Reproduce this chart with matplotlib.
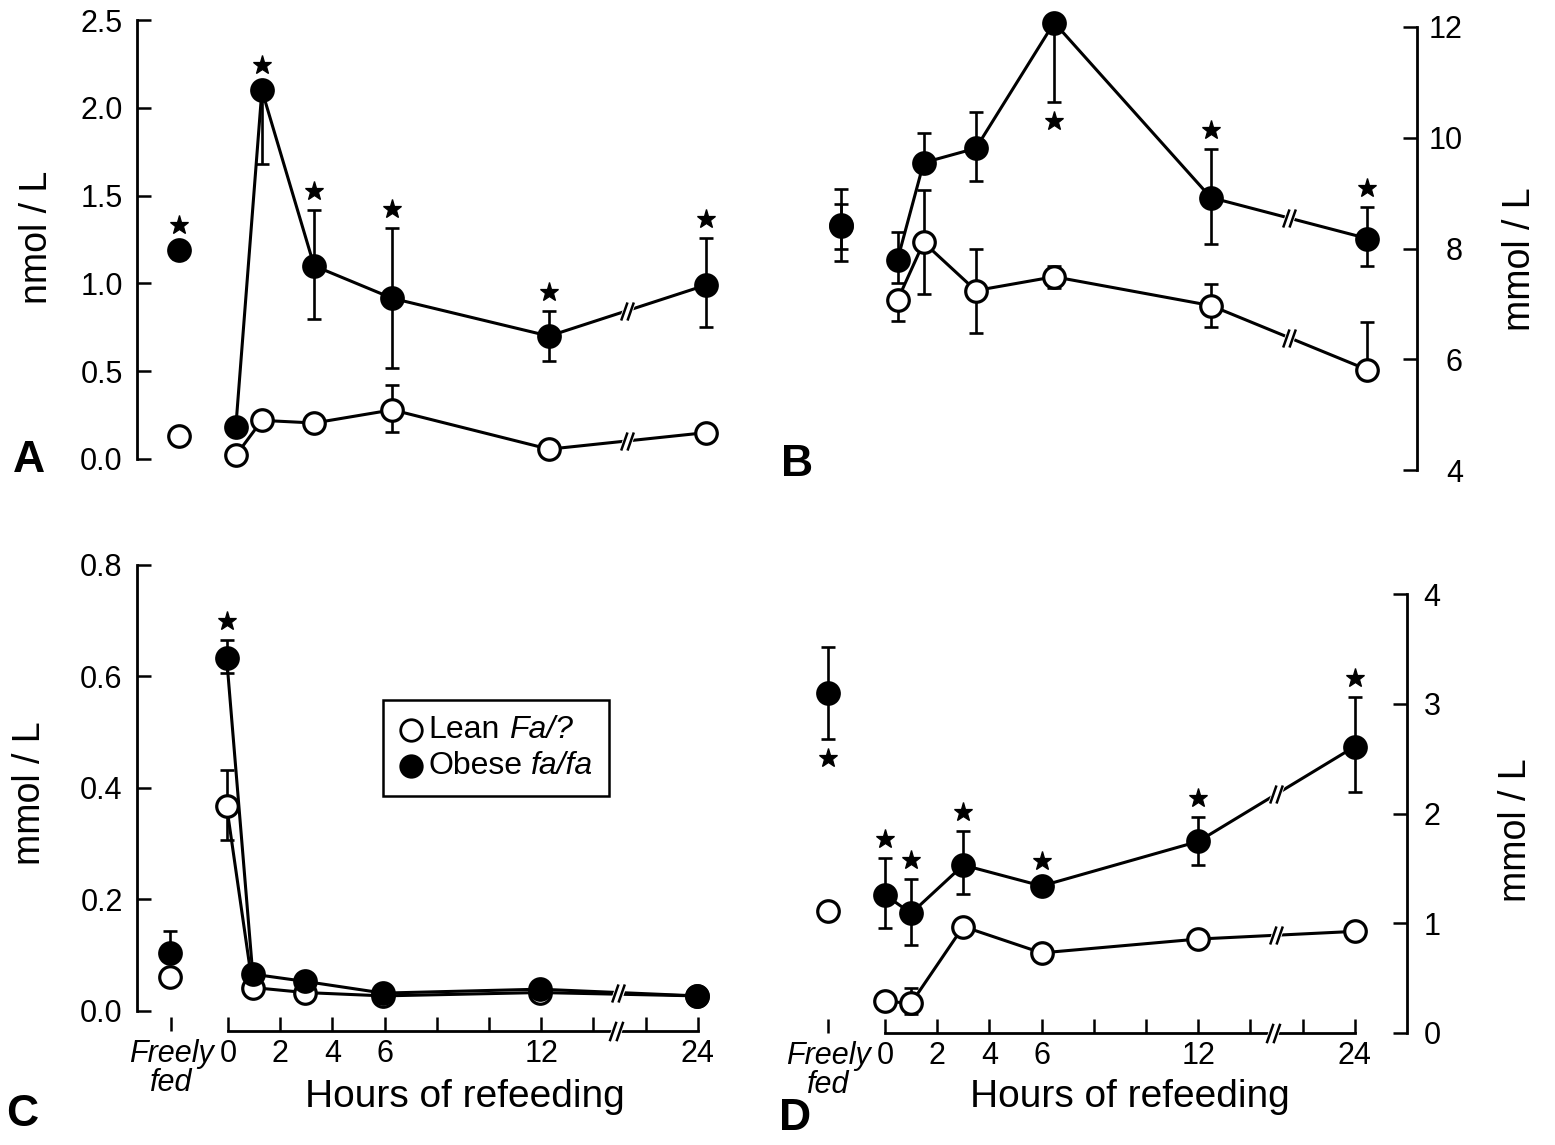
import matplotlib
matplotlib.use("Agg")
import matplotlib.pyplot as plt
from matplotlib.lines import Line2D
from matplotlib.path import Path
from matplotlib.ticker import FormatStrFormatter
from matplotlib.offsetbox import AnchoredOffsetbox, DrawingArea, HPacker, TextArea, VPacker

plt.rcParams["font.family"] = ["Liberation Sans", "DejaVu Sans"]

# sampling times, hours of refeeding; index 0 of every series below is "freely fed"
hours = [0, 1, 3, 6, 12, 24]
hour_ticks = [0, 2, 4, 6, 8, 10, 12, 14, 22, 24]
hour_labels = ["0", "2", "4", "6", "", "", "12", "", "", "24"]

# A (nmol / L)
a_lean = [0.13, 0.02, 0.22, 0.205, 0.28, 0.056, 0.15]
a_lean_lo = [0, 0, 0, 0, 0.125, 0, 0]
a_lean_hi = [0, 0, 0, 0, 0.14, 0, 0]
a_obese = [1.19, 0.18, 2.10, 1.10, 0.915, 0.70, 0.99]
a_obese_lo = [0.05, 0, 0.42, 0.30, 0.395, 0.14, 0.24]
a_obese_hi = [0.03, 0, 0, 0.32, 0.40, 0.14, 0.27]
a_stars = ["up", "", "up", "up", "up", "up", "up"]

# B (mmol / L)
b_lean = [8.40, 7.07, 8.11, 7.24, 7.49, 6.97, 5.81]
b_lean_lo = [0.40, 0.38, 0.93, 0.76, 0.20, 0.38, 0]
b_lean_hi = [0.40, 0, 0.95, 0.76, 0.20, 0.39, 0.86]
b_obese = [8.43, 7.80, 9.55, 9.81, 12.08, 8.92, 8.18]
b_obese_lo = [0.66, 0.43, 0, 0.59, 1.43, 0.84, 0.49]
b_obese_hi = [0.65, 0.50, 0.54, 0.65, 0, 0.87, 0.57]
b_stars = ["", "", "", "", "down", "up", "up"]

# C (mmol / L)
c_lean = [0.06, 0.367, 0.042, 0.033, 0.027, 0.033, 0.027]
c_lean_lo = [0, 0.06, 0, 0, 0, 0, 0]
c_lean_hi = [0, 0.065, 0, 0, 0, 0, 0]
c_obese = [0.104, 0.633, 0.066, 0.053, 0.032, 0.039, 0.027]
c_obese_lo = [0, 0.026, 0, 0, 0, 0, 0]
c_obese_hi = [0.04, 0.033, 0, 0, 0, 0, 0]
c_stars = ["", "up", "", "", "", "", ""]

# D (mmol / L)
d_lean = [1.11, 0.29, 0.27, 0.97, 0.73, 0.856, 0.926]
d_lean_lo = [0, 0, 0.10, 0, 0, 0, 0]
d_lean_hi = [0, 0, 0.14, 0, 0, 0, 0]
d_obese = [3.10, 1.26, 1.09, 1.53, 1.34, 1.745, 2.61]
d_obese_lo = [0.42, 0.30, 0.29, 0.26, 0, 0.215, 0.41]
d_obese_hi = [0.42, 0.33, 0.31, 0.31, 0, 0.225, 0.45]
d_stars = ["down", "up", "up", "up", "up", "up", "up"]

W, H = 1555, 1145
FF_POS = -2.18
BREAK_POS = 15.0
MS = 15.5
LW = 2.2
TICK_FS = 22

fig = plt.figure(figsize=(W / 100, H / 100), dpi=100)


def axis_pos(h):
    # broken time axis: 14 -> 22 h is cut out
    return h if h <= 14 else h - 6


def px_axes(left, top, right, bottom):
    return fig.add_axes([left / W, 1 - bottom / H, (right - left) / W, (bottom - top) / H])


slash = Path([(-0.7, -1), (0.0, 1), (0.0, -1), (0.7, 1)],
             [Path.MOVETO, Path.LINETO, Path.MOVETO, Path.LINETO])
gap = Path([(-0.7, -1), (0.0, 1), (0.7, 1), (0.0, -1), (-0.7, -1)],
           [Path.MOVETO, Path.LINETO, Path.LINETO, Path.LINETO, Path.CLOSEPOLY])


def break_mark(ax, x, y, transform=None, size=14):
    kw = dict(clip_on=False, zorder=8, linestyle="none")
    if transform is not None:
        kw["transform"] = transform
    ax.plot([x], [y], marker=gap, ms=size, mfc="white", mec="white", mew=3, **kw)
    ax.plot([x], [y], marker=slash, ms=size, mfc="none", mec="black", mew=1.8, **kw)


def draw_series(ax, shift, vals, lo, hi, stars, face, z):
    x = [FF_POS + shift] + [axis_pos(h) + shift for h in hours]
    ax.errorbar(x, vals, yerr=[lo, hi], fmt="none", ecolor="black", elinewidth=1.9,
                capsize=5, capthick=1.9, zorder=z)
    ax.plot(x[1:], vals[1:], "-", color="black", lw=LW, zorder=z + 1, clip_on=False)
    ax.plot(x, vals, "o", ms=MS, mfc=face, mec="black", mew=2.3, zorder=z + 2,
            clip_on=False, linestyle="none")

    # break marks on the segment 12 h -> 24 h
    x0, x1 = x[-2], x[-1]
    xb = BREAK_POS + shift
    yb = vals[-2] + (vals[-1] - vals[-2]) * (xb - x0) / (x1 - x0)
    break_mark(ax, xb, yb, size=13)

    # significance stars
    rad = MS / 2 * 100 / 72 + 1
    for xi, v, l, h, s in zip(x, vals, lo, hi, stars):
        if not s:
            continue
        _, vp = ax.transData.transform((xi, v))
        if s == "up":
            _, hp = ax.transData.transform((xi, v + h))
            yp = max(hp + 6, vp + rad) + 13
        else:
            _, lp = ax.transData.transform((xi, v - l))
            yp = min(lp - 6, vp - rad) - 13
        ys = ax.transData.inverted().transform((0, yp))[1]
        ax.plot([xi], [ys], marker="*", ms=14, color="black", mew=0.9,
                clip_on=False, zorder=9, linestyle="none")


def style_axis(ax, side):
    for s in ["top", "right", "left", "bottom"]:
        ax.spines[s].set_visible(False)
    ax.spines[side].set_visible(True)
    ax.spines[side].set_linewidth(2.0)
    ax.tick_params(axis="y", direction="in", length=10, width=1.8, labelsize=TICK_FS,
                   left=(side == "left"), right=(side == "right"),
                   labelleft=(side == "left"), labelright=(side == "right"), pad=10)
    ax.tick_params(axis="x", bottom=False, labelbottom=False)
    ax.set_facecolor("none")


def hours_axis(ax):
    ax.spines["bottom"].set_visible(True)
    ax.spines["bottom"].set_linewidth(2.0)
    ax.spines["bottom"].set_bounds(0, axis_pos(24))
    ticks = [FF_POS] + [axis_pos(h) for h in hour_ticks]
    ax.set_xticks(ticks)
    ax.set_xticklabels(["Freely\nfed"] + hour_labels)
    ax.tick_params(axis="x", bottom=True, labelbottom=True, direction="in",
                   length=10, width=1.8, labelsize=TICK_FS, pad=6)
    ff = ax.get_xticklabels()[0]
    ff.set_fontstyle("italic")
    ff.set_linespacing(0.95)
    break_mark(ax, 14.85, 0, transform=ax.get_xaxis_transform(), size=14)


# ---- panel A ----
axA = px_axes(136.6, 20, 737, 459)
axA.set_xlim(-3.5, 19.5)
axA.set_ylim(0, 2.5)
style_axis(axA, "left")
axA.spines["left"].set_bounds(0, 2.5)
axA.set_yticks([0, 0.5, 1.0, 1.5, 2.0, 2.5])
axA.yaxis.set_major_formatter(FormatStrFormatter("%.1f"))
draw_series(axA, 0.3, a_lean, a_lean_lo, a_lean_hi, [""] * 7, "white", 2)
draw_series(axA, 0.3, a_obese, a_obese_lo, a_obese_hi, a_stars, "black", 5)

# ---- panel B ----
axB = px_axes(803.6, 27, 1417, 470)
axB.set_xlim(-3.5, 20)
axB.set_ylim(4, 12)
style_axis(axB, "right")
axB.spines["right"].set_bounds(4, 12)
axB.set_yticks([4, 6, 8, 10, 12])
axB.tick_params(axis="y", pad=33)
for lab in axB.get_yticklabels():
    lab.set_horizontalalignment("right")
draw_series(axB, 0.1, b_lean, b_lean_lo, b_lean_hi, [""] * 7, "white", 2)
draw_series(axB, 0.1, b_obese, b_obese_lo, b_obese_hi, b_stars, "black", 5)

# ---- panel C ----
axC = px_axes(136.6, 565, 737, 1031)
axC.set_xlim(-3.5, 19.5)
axC.set_ylim(-0.036, 0.8)
style_axis(axC, "left")
axC.spines["left"].set_bounds(0, 0.8)
axC.set_yticks([0, 0.2, 0.4, 0.6, 0.8])
axC.yaxis.set_major_formatter(FormatStrFormatter("%.1f"))
hours_axis(axC)
draw_series(axC, -0.05, c_lean, c_lean_lo, c_lean_hi, [""] * 7, "white", 2)
draw_series(axC, -0.05, c_obese, c_obese_lo, c_obese_hi, c_stars, "black", 5)


def legend_row(face, name, geno):
    da = DrawingArea(19, 19, 0, 0)
    da.add_artist(Line2D([9.5], [9.5], marker="o", ls="none", ms=15.5,
                         mfc=face, mec="black", mew=2))
    words = HPacker(children=[TextArea(name, textprops=dict(fontsize=23)),
                              TextArea(geno, textprops=dict(fontsize=23, fontstyle="italic"))],
                    align="baseline", pad=0, sep=6)
    return HPacker(children=[da, words], align="center", pad=0, sep=3)


leg_box = AnchoredOffsetbox(
    loc="upper left",
    child=VPacker(children=[legend_row("white", "Lean", "Fa/?"),
                            legend_row("black", "Obese", "fa/fa")],
                  align="left", pad=0, sep=4),
    pad=0.55, borderpad=0, frameon=True, prop=dict(size=20),
    bbox_to_anchor=(383 / W, 1 - 700 / H), bbox_transform=fig.transFigure)
leg_box.patch.set_boxstyle("square", pad=0)
leg_box.patch.set_edgecolor("black")
leg_box.patch.set_linewidth(1.8)
axC.add_artist(leg_box)

# ---- panel D ----
axD = px_axes(793.6, 594, 1407, 1033)
axD.set_xlim(-3.5, 20)
axD.set_ylim(0, 4)
style_axis(axD, "right")
axD.spines["right"].set_bounds(0, 4)
axD.set_yticks([0, 1, 2, 3, 4])
axD.tick_params(axis="y", pad=12)
hours_axis(axD)
draw_series(axD, 0.0, d_lean, d_lean_lo, d_lean_hi, [""] * 7, "white", 2)
draw_series(axD, 0.0, d_obese, d_obese_lo, d_obese_hi, d_stars, "black", 5)


# ---- labels ----
def ftext(x, y, s, **kw):
    fig.text(x / W, 1 - y / H, s, ha="center", va="center", **kw)


ftext(37, 237, "nmol / L", rotation=90, fontsize=27)
ftext(30, 793, "mmol / L", rotation=90, fontsize=27)
ftext(1520, 259, "mmol / L", rotation=90, fontsize=27)
ftext(1516, 830, "mmol / L", rotation=90, fontsize=27)
ftext(465, 1097, "Hours of refeeding", fontsize=28)
ftext(1130, 1097, "Hours of refeeding", fontsize=28)
ftext(29, 460, "A", fontsize=32, fontweight="bold")
ftext(797, 464, "B", fontsize=32, fontweight="bold")
ftext(22, 1115, "C", fontsize=32, fontweight="bold")
ftext(795, 1118, "D", fontsize=32, fontweight="bold")

fig.savefig("out.png", dpi=100, facecolor="white")
